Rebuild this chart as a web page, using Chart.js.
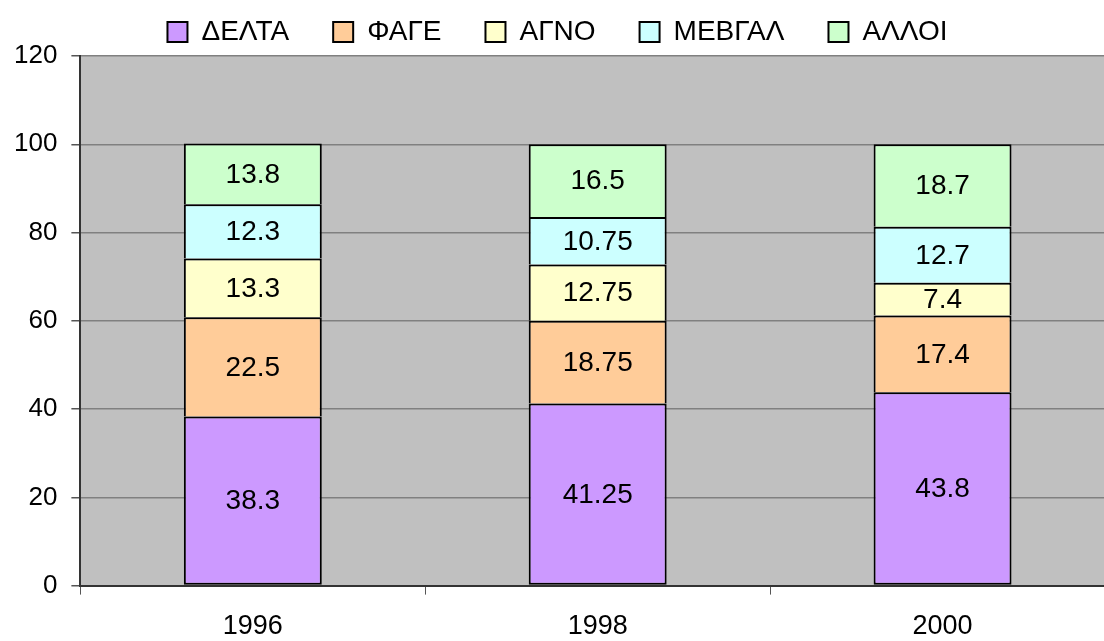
<!DOCTYPE html>
<html>
<head>
<meta charset="utf-8">
<script src="https://cdn.jsdelivr.net/npm/chart.js@4/dist/chart.umd.min.js"></script>
<style>
  html, body { margin: 0; padding: 0; background: #fff; overflow: hidden; }
  #wrap { width: 1115px; height: 641px; }
</style>
</head>
<body>
<div id="wrap"><canvas id="myChart"></canvas></div>
<script>
const years = ['1996', '1998', '2000'];
const seriesNames = ['ΔΕΛΤΑ', 'ΦΑΓΕ', 'ΑΓΝΟ', 'ΜΕΒΓΑΛ', 'ΑΛΛΟΙ'];
const delta = [38.3, 41.25, 43.8];
const fage = [22.5, 18.75, 17.4];
const agno = [13.3, 12.75, 7.4];
const mevgal = [12.3, 10.75, 12.7];
const alloi = [13.8, 16.5, 18.7];
const yTicks = [0, 20, 40, 60, 80, 100, 120];

const colors = ['#CC99FF', '#FFCC99', '#FFFFCC', '#CCFFFF', '#CCFFCC'];
const values = [delta, fage, agno, mevgal, alloi];
const FONT = '"Liberation Sans", Arial, sans-serif';

// gray plot background
const plotBg = {
    id: 'plotBg',
    beforeDraw(chart) {
        const { ctx, chartArea: a } = chart;
        ctx.save();
        ctx.fillStyle = '#C0C0C0';
        ctx.fillRect(a.left, a.top, a.right - a.left, a.bottom - a.top);
        ctx.restore();
    }
};

// value labels in the middle of each segment
const segLabels = {
    id: 'segLabels',
    afterDatasetsDraw(chart) {
        const ctx = chart.ctx;
        ctx.save();
        ctx.font = '28px ' + FONT;
        ctx.fillStyle = '#000';
        ctx.textAlign = 'center';
        ctx.textBaseline = 'middle';
        chart.data.datasets.forEach((ds, i) => {
            chart.getDatasetMeta(i).data.forEach((bar, j) => {
                const y = (bar.y + bar.base) / 2;
                ctx.fillText(String(ds.data[j]), bar.x, y + 1);
            });
        });
        ctx.restore();
    }
};

new Chart(document.getElementById('myChart'), {
    type: 'bar',
    data: {
        labels: years,
        datasets: seriesNames.map((name, i) => ({
            label: name,
            data: values[i],
            backgroundColor: colors[i],
            borderColor: '#000',
            borderWidth: 2,
            borderSkipped: i === 0 ? false : 'bottom',
            barPercentage: 0.5,
            categoryPercentage: 0.8,
        })),
    },
    options: {
        responsive: true,
        maintainAspectRatio: false,
        animation: false,
        layout: { padding: { left: 0, right: 0, top: -26, bottom: -18 } },
        plugins: {
            legend: {
                position: 'top',
                labels: {
                    color: '#000',
                    font: { family: FONT, size: 28 },
                    boxWidth: 20,
                    boxHeight: 20,
                    padding: 44,
                    generateLabels(chart) {
                        return chart.data.datasets.map((ds, i) => ({
                            text: ds.label,
                            fillStyle: ds.backgroundColor,
                            strokeStyle: '#000',
                            lineWidth: 2,
                            datasetIndex: i,
                        }));
                    },
                },
            },
            tooltip: { enabled: false },
        },
        scales: {
            x: {
                stacked: true,
                grid: { drawOnChartArea: false, drawTicks: true, tickLength: 9, color: '#555', offset: true },
                border: { color: '#333', width: 2 },
                ticks: {
                    color: '#000',
                    padding: 16,
                    font: { family: FONT, size: 27 },
                },
            },
            y: {
                stacked: true,
                min: 0,
                max: 120,
                afterBuildTicks(axis) {
                    axis.ticks = yTicks.map(v => ({ value: v }));
                },
                grid: { color: '#808080', lineWidth: 1.5, tickLength: 9, tickColor: '#555' },
                border: { color: '#333', width: 2 },
                ticks: {
                    color: '#000',
                    padding: 14,
                    font: { family: FONT, size: 26 },
                },
            },
        },
    },
    plugins: [plotBg, segLabels],
});
</script>
</body>
</html>
